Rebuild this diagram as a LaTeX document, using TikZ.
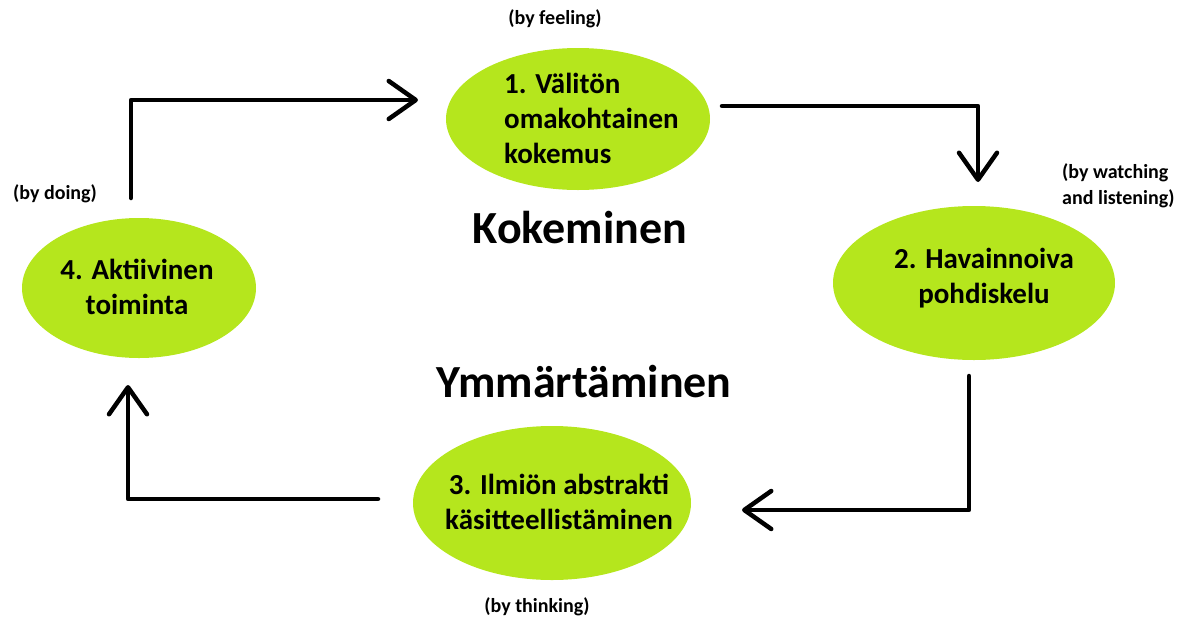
\documentclass[tikz,border=0pt]{standalone}
\usepackage{fontspec}
\setmainfont{Carlito}
\usetikzlibrary{shapes.geometric,arrows.meta}
\definecolor{lime}{RGB}{181,230,29}
\begin{document}
\begin{tikzpicture}[x=1pt,y=-1pt,
  blob/.style={ellipse,fill=lime,draw=none,inner sep=0pt},
  txt/.style={font=\fontsize{29}{35}\selectfont\bfseries,inner sep=0pt},
  big/.style={font=\fontsize{46}{52}\selectfont\bfseries,inner sep=0pt},
  small/.style={font=\fontsize{20}{26}\selectfont\bfseries,inner sep=0pt},
  arr/.style={line width=4.5pt,line join=round,line cap=round,
    -{Straight Barb[length=27pt,width=38pt,round]}}]
\useasboundingbox (0,0) rectangle (1192,619);
% ellipses
\node[blob,minimum width=264pt,minimum height=142pt] (e1) at (578,119) {};
\node[blob,minimum width=282pt,minimum height=154pt] (e2) at (974,283) {};
\node[blob,minimum width=278pt,minimum height=154pt] (e3) at (552,503) {};
\node[blob,minimum width=234pt,minimum height=140pt] (e4) at (139,288) {};
% texts in ellipses
\node[txt,align=left,anchor=west] (t1) at (504,118) {1. Välitön\\omakohtainen\\kokemus};
\node[txt,align=center] (t2) at (984,278) {2. Havainnoiva\\pohdiskelu};
\node[txt,align=center] (t3) at (559,502) {3. Ilmiön abstrakti\\käsitteellistäminen};
\node[txt,align=center] (t4) at (137,287) {4. Aktiivinen\\toiminta};
% headings
\node[big,anchor=base] (k) at (580,243) {Kokeminen};
\node[big,anchor=base] (y) at (584,397) {Ymmärtäminen};
% small labels
\node[small] (l1) at (555,19) {(by feeling)};
\node[small,align=left,anchor=west] (l2) at (1062,186) {(by watching\\and listening)};
\node[small] (l3) at (537,607) {(by thinking)};
\node[small] (l4) at (55,194) {(by doing)};
% connectors
\coordinate (a1s) at (131,198);
\coordinate (a1e) at (418,100);
\coordinate (a2s) at (722,106);
\coordinate (a2e) at (978,182);
\coordinate (a3s) at (969,376);
\coordinate (a3e) at (742,510);
\coordinate (a4s) at (378,499);
\coordinate (a4e) at (128,385);
\draw[arr] (a1s) |- (a1e);
\draw[arr] (a2s) -| (a2e);
\draw[arr] (a3s) |- (a3e);
\draw[arr] (a4s) -| (a4e);
\end{tikzpicture}
\end{document}
